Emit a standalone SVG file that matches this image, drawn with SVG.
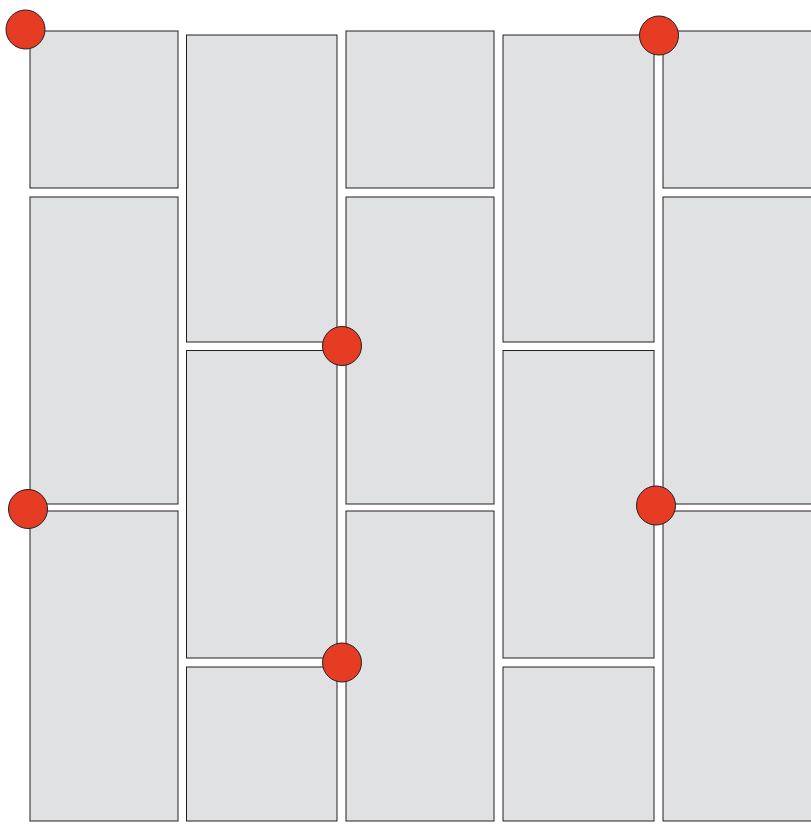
<svg xmlns="http://www.w3.org/2000/svg" width="811" height="836" viewBox="0 0 811 836">
<style>
.t{fill:#e0e1e3;stroke:#231f20;stroke-width:1}
.d{fill:#e63c23;stroke:#231f20;stroke-width:1}
</style>
<rect width="811" height="836" fill="#fff"/>
<g id="tiles">
<rect class="t" x="30" y="31" width="148" height="157"/>
<rect class="t" x="30" y="197" width="148" height="307"/>
<rect class="t" x="30" y="511" width="148" height="310"/>
<rect class="t" x="186.5" y="35" width="150.5" height="307"/>
<rect class="t" x="186.5" y="350.5" width="150.5" height="307.5"/>
<rect class="t" x="186.5" y="667" width="150.5" height="154"/>
<rect class="t" x="346" y="31" width="148" height="157"/>
<rect class="t" x="346" y="197" width="148" height="307"/>
<rect class="t" x="346" y="511" width="148" height="310"/>
<rect class="t" x="503" y="35" width="151" height="307"/>
<rect class="t" x="503" y="350.5" width="151" height="307.5"/>
<rect class="t" x="503" y="667" width="151" height="154"/>
<rect class="t" x="663" y="31" width="150" height="157"/>
<rect class="t" x="663" y="197" width="150" height="307"/>
<rect class="t" x="663" y="511" width="150" height="310"/>
</g>
<g id="dots">
<circle class="d" cx="25.5" cy="29.5" r="19.5"/>
<circle class="d" cx="659" cy="35.5" r="19.5"/>
<circle class="d" cx="342" cy="346" r="19.5"/>
<circle class="d" cx="28" cy="509" r="19.5"/>
<circle class="d" cx="656" cy="505.5" r="19.5"/>
<circle class="d" cx="342" cy="662.5" r="19.5"/>
</g>
</svg>
